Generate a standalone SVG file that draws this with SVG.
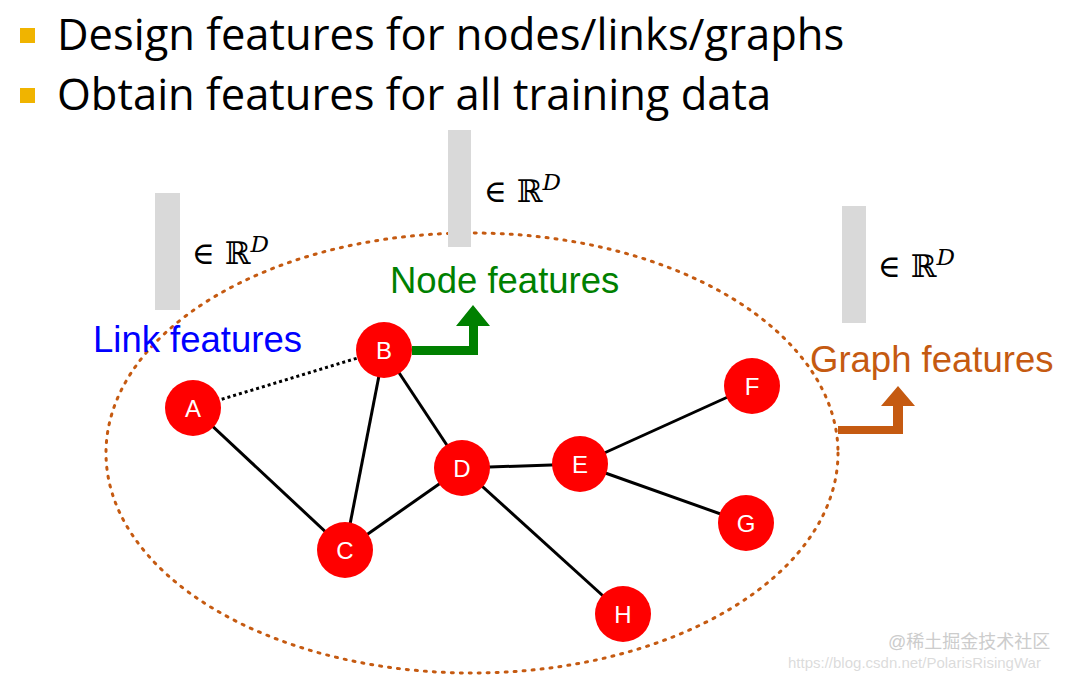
<svg xmlns="http://www.w3.org/2000/svg" width="1069" height="676" viewBox="0 0 1069 676">
<style>
.b{font-family:"Open Sans","Liberation Sans",sans-serif;font-size:43.5px;fill:#000}
.bar{fill:#d9d9d9}
.m{font-family:"DejaVu Serif","Liberation Serif",serif;font-size:31px;fill:#000}
.lbl{font-family:"Liberation Sans",Arial,sans-serif;font-size:36.5px}
.n circle{fill:#ff0000}
.n text{font-family:"Liberation Sans",Arial,sans-serif;font-size:24px;fill:#fff;text-anchor:middle}
.e line{stroke:#000;stroke-width:3}
.wm{font-family:"Liberation Sans","Noto Sans CJK SC",sans-serif;fill:#ccc}
</style>
<rect width="1069" height="676" fill="#fff"/>
<rect x="20" y="28" width="15" height="15" fill="#f0b400"/>
<rect x="20" y="88" width="15" height="15" fill="#f0b400"/>
<text class="b" x="57" y="50">Design features for nodes/links/graphs</text>
<text class="b" x="57" y="110">Obtain features for all training data</text>
<ellipse cx="472" cy="453" rx="366" ry="220" fill="none" stroke="#c55a11" stroke-width="3" stroke-dasharray="2 7" stroke-linecap="round"/>
<rect class="bar" x="155" y="193" width="25" height="117"/>
<rect class="bar" x="448" y="130" width="23" height="117"/>
<rect class="bar" x="842" y="206" width="24" height="117"/>
<text class="m" x="192" y="264">∈ ℝ<tspan font-style="italic" font-size="23" dy="-12">D</tspan></text>
<text class="m" x="484" y="202">∈ ℝ<tspan font-style="italic" font-size="23" dy="-12">D</tspan></text>
<text class="m" x="878" y="277">∈ ℝ<tspan font-style="italic" font-size="23" dy="-12">D</tspan></text>
<text class="lbl" x="93" y="352" fill="#0000ff">Link features</text>
<text class="lbl" x="390" y="293" fill="#008000">Node features</text>
<text class="lbl" x="810" y="372" fill="#c55a11">Graph features</text>
<path d="M412,346 H469 V326 H456 L473,305 L490,326 H478 V355 H412 Z" fill="#008000"/>
<path d="M838,426 H893 V406 H881 L898,386 L915,406 H903 V434 H838 Z" fill="#c55a11"/>
<g id="edges" class="e">
<line x1="193" y1="408" x2="384" y2="350" stroke-dasharray="3 3"/>
<line x1="193" y1="408" x2="345" y2="550"/>
<line x1="384" y1="350" x2="345" y2="550"/>
<line x1="384" y1="350" x2="462" y2="468"/>
<line x1="345" y1="550" x2="462" y2="468"/>
<line x1="462" y1="468" x2="580" y2="464"/>
<line x1="462" y1="468" x2="623" y2="614"/>
<line x1="580" y1="464" x2="752" y2="386"/>
<line x1="580" y1="464" x2="746" y2="523"/>
</g>
<g id="A" class="n"><circle cx="193" cy="408" r="28"/><text x="193" y="417">A</text></g>
<g id="B" class="n"><circle cx="384" cy="350" r="28"/><text x="384" y="359">B</text></g>
<g id="C" class="n"><circle cx="345" cy="550" r="28"/><text x="345" y="559">C</text></g>
<g id="D" class="n"><circle cx="462" cy="468" r="28"/><text x="462" y="477">D</text></g>
<g id="E" class="n"><circle cx="580" cy="464" r="28"/><text x="580" y="473">E</text></g>
<g id="F" class="n"><circle cx="752" cy="386" r="28"/><text x="752" y="395">F</text></g>
<g id="G" class="n"><circle cx="746" cy="523" r="28"/><text x="746" y="532">G</text></g>
<g id="H" class="n"><circle cx="623" cy="614" r="28"/><text x="623" y="623">H</text></g>
<text class="wm" x="888" y="648" font-size="18">@稀土掘金技术社区</text>
<text class="wm" x="788" y="668" font-size="15" fill-opacity="0.7">https://blog.csdn.net/PolarisRisingWar</text>
</svg>
